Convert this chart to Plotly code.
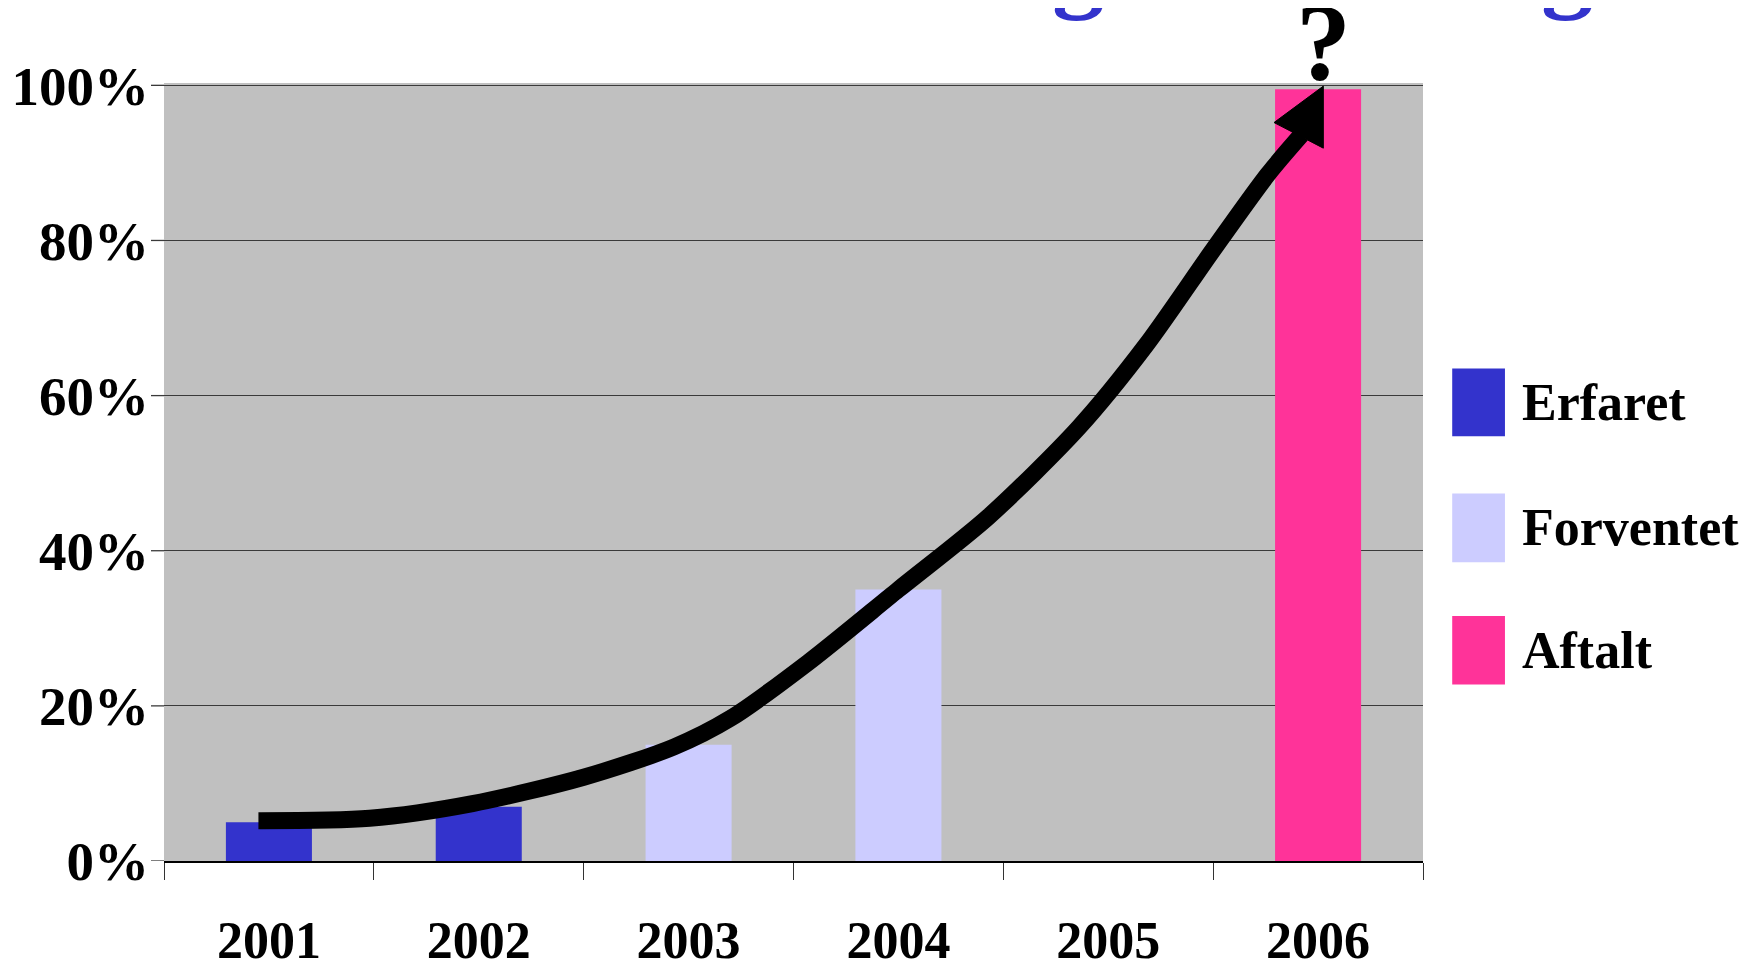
import plotly.graph_objects as go

years = ["2001", "2002", "2003", "2004", "2005", "2006"]
series_names = ["Erfaret", "Forventet", "Aftalt"]
erfaret = [5, 7, None, None, None, None]
forventet = [None, None, 15, 35, None, None]
aftalt = [None, None, None, None, None, 99.5]
colors = ["#3333CC", "#CCCCFF", "#FF3399"]
y_tickvals = [0, 20, 40, 60, 80, 100]
y_ticktext = ["0%", "20%", "40%", "60%", "80%", "100%"]

# decorative trend arrow (x in category index units, y in %)
curve_x = [-0.05, 0.48, 0.97, 1.50, 1.93, 2.20, 2.57, 3.00, 3.43, 3.86, 4.18, 4.50, 4.76, 4.92]
curve_y = [5.2, 5.5, 7.4, 10.8, 14.7, 18.4, 25.6, 35.0, 44.4, 55.9, 66.5, 78.8, 88.5, 93.6]
head_x = [5.025, 4.79, 5.025, 5.025]
head_y = [99.9, 95.2, 91.9, 99.9]

font_family = "Liberation Serif, Times New Roman, serif"

fig = go.Figure()
for name, vals, col in zip(series_names, [erfaret, forventet, aftalt], colors):
    fig.add_trace(go.Bar(x=years, y=vals, name=name, marker=dict(color=col, line=dict(width=0)),
                         width=0.41, showlegend=False))

fig.add_trace(go.Scatter(x=curve_x, y=curve_y, mode="lines", xaxis="x2",
                         line=dict(color="black", width=17, shape="spline", smoothing=0.8),
                         showlegend=False, hoverinfo="skip"))
fig.add_trace(go.Scatter(x=head_x, y=head_y, mode="lines", xaxis="x2", fill="toself",
                         fillcolor="black", line=dict(color="black", width=1),
                         showlegend=False, hoverinfo="skip"))

L, R, T, B = 156, 346, 75, 112
W, H = 1761, 965
pw = W - L - R

shapes = []
annotations = []
# y tick marks drawn as short lines left of the plot area
for v in y_tickvals:
    shapes.append(dict(type="line", xref="paper", yref="y", x0=-13 / pw, x1=0, y0=v, y1=v,
                       line=dict(color="#3a3a3a", width=1.3)))

legend_boxes = [(0.546, 0.633), (0.384, 0.4725), (0.227, 0.315)]
for (y0, y1), name, col in zip(legend_boxes, series_names, colors):
    shapes.append(dict(type="rect", xref="paper", yref="paper", x0=1.0232, x1=1.0651,
                       y0=y0, y1=y1, fillcolor=col, line=dict(width=0)))
    annotations.append(dict(xref="paper", yref="paper", x=1.0767, y=(y0 + y1) / 2,
                            text=name, showarrow=False, xanchor="left", yanchor="middle",
                            font=dict(family=font_family, size=52, color="black", weight="bold")))

annotations.append(dict(xref="paper", yref="paper", x=0.9206, y=1, xanchor="center",
                        yanchor="bottom", yshift=-22, text="?", showarrow=False,
                        font=dict(family=font_family, size=110, color="black", weight="bold")))
for gx in [0.726, 1.114]:
    annotations.append(dict(xref="paper", yref="paper", x=gx, y=1, xanchor="center",
                            yanchor="bottom", yshift=60, text="g", showarrow=False,
                            font=dict(family=font_family, size=104, color="#3333CC", weight="bold")))

fig.update_layout(
    width=W, height=H,
    margin=dict(l=L, r=R, t=T, b=B, autoexpand=False),
    paper_bgcolor="white", plot_bgcolor="#C0C0C0",
    barmode="overlay",
    font=dict(family=font_family, color="black"),
    xaxis=dict(type="category", range=[-0.5, 5.5], tickson="boundaries", ticks="outside",
               ticklen=17, tickcolor="#333333", tickwidth=1.3,
               showline=True, linecolor="black", linewidth=1.5, showgrid=False,
               tickfont=dict(family=font_family, size=52, color="black", weight="bold"),
               ticklabelstandoff=33, automargin=False, fixedrange=True),
    xaxis2=dict(overlaying="x", range=[-0.5, 5.5], visible=False, fixedrange=True),
    yaxis=dict(range=[0, 100.3], tickmode="array", tickvals=y_tickvals, ticktext=y_ticktext,
               showgrid=True, gridcolor="#3a3a3a", gridwidth=1.3, zeroline=False,
               ticks="", showline=False,
               tickfont=dict(family=font_family, size=55, color="black", weight="bold"),
               ticklabelstandoff=14, automargin=False, fixedrange=True),
    shapes=shapes, annotations=annotations,
)

fig.write_html("out.html")
